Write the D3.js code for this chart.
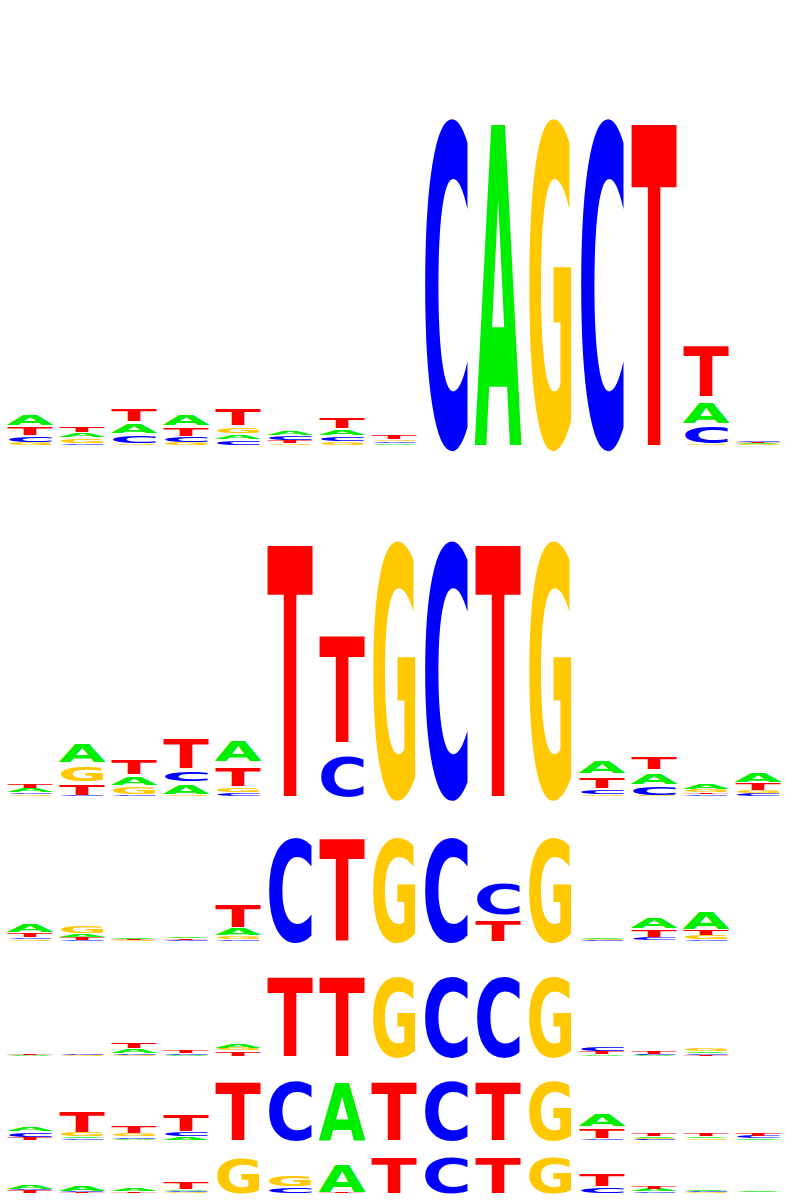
<!DOCTYPE html>
<html>
<head>
<meta charset="utf-8">
<script src="https://cdn.jsdelivr.net/npm/d3@7"></script>
<style>
  body { margin: 0; background: #fff; }
  svg { display: block; }
</style>
</head>
<body>
<div id="logo"></div>
<script>
// nucleotide colours (classic scheme)
var bases = ["A", "C", "G", "T"];
var baseColors = ["#00ee00", "#0000ff", "#ffc800", "#ff0000"];

// each motif: one entry per position, letters listed bottom -> top, height in bits
var motif1 = [
  [["G", .012], ["C", .033], ["T", .045], ["A", .062]],
  [["C", .009], ["G", .026], ["A", .025], ["T", .031]],
  [["G", .011], ["C", .041], ["A", .057], ["T", .072]],
  [["G", .013], ["C", .028], ["T", .048], ["A", .062]],
  [["C", .026], ["A", .027], ["G", .035], ["T", .093]],
  [["G", .010], ["T", .012], ["C", .021], ["A", .022]],
  [["G", .019], ["C", .026], ["A", .033], ["T", .067]],
  [["A", .009], ["C", .009], ["G", .011], ["T", .026]],
  [["C", 1.973]],
  [["A", 1.973]],
  [["G", 1.973]],
  [["C", 1.973]],
  [["T", 1.973]],
  [["G", .007], ["C", .093], ["A", .120], ["T", .308]],
  [["G", .003], ["A", .006], ["T", .006], ["C", .011]]
];

var motif2 = [
  [["G", .011], ["C", .009], ["A", .026], ["T", .031]],
  [["C", .006], ["T", .078], ["G", .111], ["A", .141]],
  [["C", .014], ["G", .048], ["A", .063], ["T", .109]],
  [["G", .014], ["A", .074], ["C", .074], ["T", .222]],
  [["C", .023], ["G", .034], ["T", .145], ["A", .148]],
  [["T", 1.954]],
  [["C", .305], ["T", .828]],
  [["G", 1.954]],
  [["C", 1.954]],
  [["T", 1.954]],
  [["G", 1.954]],
  [["G", .014], ["C", .034], ["T", .083], ["A", .094]],
  [["G", .006], ["C", .063], ["A", .083], ["T", .094]],
  [["C", .013], ["T", .011], ["G", .017], ["A", .039]],
  [["C", .015], ["G", .019], ["T", .047], ["A", .066]]
];

var motif3 = [
  [["G", .023], ["C", .032], ["T", .065], ["A", .152]],
  [["C", .014], ["T", .046], ["A", .044], ["G", .124]],
  [["C", .004], ["G", .011], ["T", .011], ["A", .018]],
  [["G", .004], ["C", .014], ["T", .018], ["A", .028]],
  [["C", .028], ["G", .055], ["A", .114], ["T", .423]],
  [["C", 1.91]],
  [["T", 1.91]],
  [["G", 1.91]],
  [["C", 1.91]],
  [["T", .378], ["C", .566]],
  [["G", 1.91]],
  [["C", .014], ["G", .014], ["A", .021]],
  [["G", .007], ["C", .051], ["T", .117], ["A", .189]],
  [["C", .021], ["G", .062], ["T", .087], ["A", .309]]
];

var motif4 = [
  [["A", .014], ["T", .026]],
  [["G", .014], ["C", .026]],
  [["G", .014], ["C", .043], ["A", .078], ["T", .134]],
  [["A", .017], ["C", .035], ["T", .064]],
  [["T", .096], ["G", .047], ["A", .103]],
  [["T", 1.868]],
  [["T", 1.868]],
  [["G", 1.868]],
  [["C", 1.868]],
  [["C", 1.868]],
  [["G", 1.868]],
  [["A", .030], ["T", .064], ["C", .101]],
  [["A", .014], ["C", .014], ["T", .063]],
  [["T", .026], ["C", .026], ["A", .040], ["G", .047]]
];

var motif5 = [
  [["T", .076], ["C", .138], ["A", .140]],
  [["C", .052], ["A", .043], ["G", .102], ["T", .652]],
  [["A", .029], ["C", .055], ["G", .076], ["T", .214]],
  [["A", .095], ["C", .119], ["T", .524]],
  [["T", 1.852]],
  [["C", 1.852]],
  [["A", 1.852]],
  [["T", 1.852]],
  [["C", 1.852]],
  [["T", 1.852]],
  [["G", 1.852]],
  [["C", .036], ["T", .286], ["A", .381]],
  [["C", .029], ["G", .029], ["A", .036], ["T", .067]],
  [["G", .043], ["A", .052], ["T", .076]],
  [["A", .036], ["C", .067], ["T", .079]]
];

var motif6 = [
  [["T", .102], ["C", .049], ["A", .196]],
  [["T", .038], ["C", .049], ["A", .242]],
  [["T", .057], ["A", .125]],
  [["G", .030], ["C", .045], ["A", .075], ["T", .347]],
  [["G", 1.758]],
  [["C", .283], ["G", .517]],
  [["T", .049], ["A", 1.415]],
  [["T", 1.796]],
  [["C", 1.796]],
  [["T", 1.796]],
  [["G", 1.796]],
  [["C", .257], ["T", .630]],
  [["C", .057], ["A", .094], ["T", .125]],
  [["G", .030], ["C", .045], ["A", .091]],
  [["C", .023], ["A", .045]]
];

// layout: each logo sits in its own band, 2 bits = band height
var svgWidth = 795, svgHeight = 1200;
var left = 4, colStep = 52;
var panels = [
  { data: motif1, top: 0, base: 445 },
  { data: motif2, top: 445, base: 796 },
  { data: motif3, top: 796, base: 941 },
  { data: motif4, top: 941, base: 1056 },
  { data: motif5, top: 1056, base: 1140 },
  { data: motif6, top: 1140, base: 1193 }
];

// ink width each glyph is stretched to inside its column
var glyphWidth = { A: 47, C: 43, G: 42.5, T: 45.5 };
var color = d3.scaleOrdinal().domain(bases).range(baseColors);

// measure real glyph ink at 100px so letters can be stretched to fit
var fontSize = 100;
var fontFamily = "'DejaVu Sans', 'Liberation Sans', sans-serif";
var ctx = document.createElement("canvas").getContext("2d");
ctx.font = "bold " + fontSize + "px " + fontFamily;
var ink = {};
bases.forEach(function (b) {
  var m = ctx.measureText(b);
  ink[b] = { left: -m.actualBoundingBoxLeft, width: m.actualBoundingBoxLeft + m.actualBoundingBoxRight };
});

var svg = d3.select("#logo")
  .append("svg")
  .attr("width", svgWidth)
  .attr("height", svgHeight);

panels.forEach(function (p) {
  var x = d3.scaleBand()
    .domain(d3.range(p.data.length))
    .range([left, left + colStep * p.data.length]);

  var y = d3.scaleLinear()
    .domain([0, 2])
    .range([p.base, p.top]);

  // flatten the stacks into one record per letter
  var letters = [];
  p.data.forEach(function (col, i) {
    var cum = 0;
    col.forEach(function (d) {
      letters.push({ pos: i, base: d[0], y0: cum, y1: cum + d[1] });
      cum += d[1];
    });
  });

  svg.append("g")
    .selectAll("text")
    .data(letters)
    .enter()
    .append("text")
    .attr("font-family", fontFamily)
    .attr("font-weight", "bold")
    .attr("font-size", fontSize)
    .attr("fill", function (d) { return color(d.base); })
    .attr("transform", function (d) {
      var h = y(d.y0) - y(d.y1);
      var sx = glyphWidth[d.base] / ink[d.base].width;
      var cx = x(d.pos) + x.bandwidth() / 2;
      var tx = cx - glyphWidth[d.base] / 2 - ink[d.base].left * sx;
      return "translate(" + tx + "," + y(d.y0) + ") scale(" + sx + "," + (h / fontSize) + ")";
    })
    .text(function (d) { return d.base; });
});
</script>
</body>
</html>
